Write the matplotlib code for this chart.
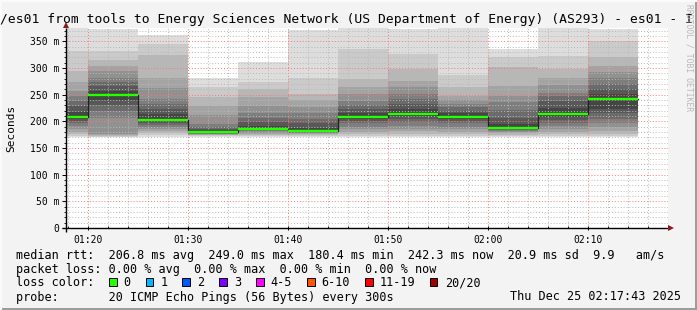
import matplotlib
matplotlib.use("Agg")
import matplotlib.pyplot as plt
from matplotlib.patches import Rectangle
import numpy as np

W, H = 697, 310

# ---------------- data ----------------
# step end times in minutes after 00:00 (01:20 ... 02:15), 5-minute steps
step_end_min = [80, 85, 90, 95, 100, 105, 110, 115, 120, 125, 130, 135]
step_len_min = 5
# median RTT per step (ms)
median_ms = [208.7, 249.0, 203.0, 180.4, 186.0, 182.5, 208.0, 213.0, 208.7, 188.0, 213.7, 242.3]
# 20 sorted ping RTTs per step (ms)
p01 = [170, 173, 176, 180, 186, 192, 197, 201, 205, 208, 210, 217, 229, 239, 248, 257, 273, 295, 332, 390]
p02 = [170, 171, 173, 174, 176, 206, 219, 230, 240, 249, 250, 257, 267, 273, 282, 295, 304, 315, 332, 373]
p03 = [170, 174, 178, 182, 186, 189, 193, 196, 200, 202, 204, 214, 223, 232, 242, 262, 282, 325, 345, 362]
p04 = [170, 172, 174, 175, 176, 177, 178, 179, 180, 180, 181, 183, 186, 190, 195, 212, 229, 245, 264, 282]
p05 = [171, 173, 175, 177, 179, 181, 183, 185, 186, 186, 187, 192, 198, 207, 215, 229, 245, 261, 273, 311]
p06 = [170, 172, 174, 176, 178, 179, 180, 181, 182, 182, 183, 188, 196, 204, 215, 226, 240, 251, 282, 371]
p07 = [170, 173, 176, 180, 185, 190, 196, 201, 205, 208, 209, 216, 223, 231, 239, 252, 264, 279, 336, 390]
p08 = [170, 173, 177, 181, 186, 192, 198, 205, 210, 213, 214, 223, 232, 242, 251, 265, 276, 298, 327, 373]
p09 = [170, 173, 176, 180, 185, 190, 196, 200, 205, 208, 210, 215, 220, 226, 232, 240, 248, 265, 286, 390]
p10 = [171, 173, 175, 178, 180, 182, 184, 186, 187, 188, 189, 195, 207, 221, 236, 248, 267, 301, 320, 335]
p11 = [170, 173, 176, 180, 185, 191, 197, 203, 209, 213, 214, 225, 239, 247, 254, 268, 282, 298, 323, 390]
p12 = [170, 173, 177, 182, 189, 196, 205, 215, 223, 240, 244, 252, 261, 270, 282, 293, 304, 321, 351, 373]
step_pings = [p01, p02, p03, p04, p05, p06, p07, p08, p09, p10, p11, p12]

y_ticks = [0, 50, 100, 150, 200, 250, 300, 350]
y_tick_labels = ["0", "50 m", "100 m", "150 m", "200 m", "250 m", "300 m", "350 m"]
x_ticks = [80, 90, 100, 110, 120, 130]
x_tick_labels = ["01:20", "01:30", "01:40", "01:50", "02:00", "02:10"]

title = "/es01 from tools to Energy Sciences Network (US Department of Energy) (AS293) - es01 - I"
legend_rtt = "median rtt:  206.8 ms avg  249.0 ms max  180.4 ms min  242.3 ms now  20.9 ms sd  9.9   am/s"
legend_loss = "packet loss: 0.00 % avg  0.00 % max  0.00 % min  0.00 % now"
loss_labels = ["0", "1", "2", "3", "4-5", "6-10", "11-19", "20/20"]
loss_colors = ["#26ff00", "#00b8ff", "#0059ff", "#7e00ff", "#ff00ff", "#ff5500", "#ff0000", "#a10000"]
probe_text = "probe:       20 ICMP Echo Pings (56 Bytes) every 300s"
date_text = "Thu Dec 25 02:17:43 2025"

# ---------------- figure ----------------
MONO = "DejaVu Sans Mono"
plt.rcParams["font.family"] = [MONO]

fig = plt.figure(figsize=(W / 100, H / 100), dpi=100)
fig.patch.set_facecolor("#f3f3f3")

def fx(x):
    return x / W

def fy(y):
    return 1 - y / H

ax_l, ax_r, ax_t, ax_b = 66, 668, 28, 228
ax = fig.add_axes([fx(ax_l), fy(ax_b), (ax_r - ax_l) / W, (ax_b - ax_t) / H])
ax.set_facecolor("white")
ax.set_xlim(77.8, 138.0)
ax.set_ylim(0, 375)

# smoke
for end, pings in zip(step_end_min, step_pings):
    start = end - step_len_min
    half = len(pings) // 2
    for i in range(half):
        lo = pings[i]
        hi = pings[len(pings) - 1 - i]
        g = int(190 / half * (half - (i + 1))) + 50
        col = "#%02x%02x%02x" % (g, g, g)
        ax.bar(start, hi - lo, bottom=lo, width=step_len_min, align="edge",
               color=col, linewidth=0, zorder=1)

# median: thin dark step connectors + green segments
edges = [e - step_len_min for e in step_end_min] + [step_end_min[-1]]
ax.step(edges, median_ms + [median_ms[-1]], where="post", color="#202020",
        lw=0.9, zorder=3)
for end, m in zip(step_end_min, median_ms):
    ax.hlines(m, end - step_len_min, end, colors=loss_colors[0], lw=1.7, zorder=4)

# grid
ax.set_xticks(x_ticks)
ax.set_xticklabels(x_tick_labels)
ax.set_xticks(np.arange(78, 138.01, 2), minor=True)
ax.set_yticks(y_ticks)
ax.set_yticklabels(y_tick_labels)
ax.set_yticks(np.arange(0, 375, 10), minor=True)
ax.grid(which="minor", color=(0.72, 0.72, 0.72, 0.7), linestyle=(0, (1, 2)), lw=0.7, zorder=2)
ax.grid(which="major", color=(1.0, 0.45, 0.45, 0.75), linestyle=(0, (1, 2)), lw=0.7, zorder=2)
ax.set_axisbelow(False)

for s in ax.spines.values():
    s.set_visible(False)

ax.tick_params(axis="both", which="both", labelsize=7, colors="black")
ax.tick_params(axis="y", which="major", direction="out", length=3.0, width=0.7, pad=2.0)
ax.tick_params(axis="y", which="minor", direction="out", length=1.6, width=0.6)
ax.tick_params(axis="x", which="major", direction="inout", length=3.5, width=0.7, pad=3.2)
ax.tick_params(axis="x", which="minor", direction="in", length=1.8, width=0.6)
for lab in ax.get_xticklabels() + ax.get_yticklabels():
    lab.set_fontfamily(MONO)

# axis lines with arrows
ax.plot([-4 / (ax_r - ax_l), 1.0], [0, 0], transform=ax.transAxes, color="black",
        lw=1.0, clip_on=False, zorder=6, solid_capstyle="butt")
ax.plot([0, 0], [-4 / (ax_b - ax_t), 1.0], transform=ax.transAxes, color="black",
        lw=1.0, clip_on=False, zorder=6, solid_capstyle="butt")
ax.plot([1.0 + 3 / (ax_r - ax_l)], [0], marker=">", markersize=5, color="#8b1a1a",
        transform=ax.transAxes, clip_on=False, zorder=7, markeredgewidth=0)
ax.plot([0], [1.0 + 3 / (ax_b - ax_t)], marker="^", markersize=5, color="#8b1a1a",
        transform=ax.transAxes, clip_on=False, zorder=7, markeredgewidth=0)

# texts
fig.text(fx(0.5), fy(23.5), title, fontsize=9.4, family=MONO, ha="left",
         va="baseline", color="black")
fig.text(fx(11), fy(128), "Seconds", rotation=90, fontsize=8, family=MONO,
         ha="center", va="center")
fig.text(fx(689), fy(4), "RRDTOOL / TOBI OETIKER", rotation=270, fontsize=5.8,
         family=MONO, ha="center", va="top", color="#b8b8b8")

LFS = 8.45
def ltext(x, yc, s, **kw):
    fig.text(fx(x), fy(yc + 4.2), s, fontsize=LFS, family=MONO, ha=kw.pop("ha", "left"),
             va="baseline", **kw)

ltext(16, 254.3, legend_rtt)
ltext(16, 268.3, legend_loss)
ltext(16, 282.3, "loss color:")
box_x = [109, 145.7, 182.3, 219, 256, 307.3, 365, 429.5]
lab_x = [123, 160.7, 197, 234, 270.7, 321.7, 380, 445.3]
for bx, tx, lab, col in zip(box_x, lab_x, loss_labels, loss_colors):
    fig.patches.append(Rectangle((fx(bx), fy(286)), 7.5 / W, 8 / H, transform=fig.transFigure,
                                 facecolor=col, edgecolor="black", lw=0.7, figure=fig))
    ltext(tx, 282.3, lab)
ltext(16, 296.3, probe_text)
ltext(681, 296.3, date_text, ha="right")

# frame (3d border)
fig.patches.append(Rectangle((0, 0), 1, 2.5 / H, transform=fig.transFigure,
                             facecolor="#9c9c9c", edgecolor="none", figure=fig))
fig.patches.append(Rectangle((1 - 2.5 / W, 0), 2.5 / W, 1, transform=fig.transFigure,
                             facecolor="#9c9c9c", edgecolor="none", figure=fig))
fig.patches.append(Rectangle((0, 1 - 2 / H), 1, 2 / H, transform=fig.transFigure,
                             facecolor="#fafafa", edgecolor="none", figure=fig))
fig.patches.append(Rectangle((0, 0), 2 / W, 1, transform=fig.transFigure,
                             facecolor="#fafafa", edgecolor="none", figure=fig))

fig.savefig("out.png", dpi=100, facecolor=fig.get_facecolor())
